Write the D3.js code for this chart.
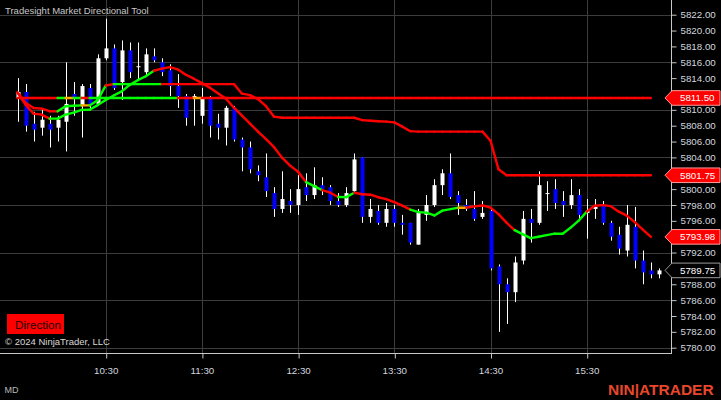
<!DOCTYPE html>
<html><head><meta charset="utf-8">
<script src="https://cdn.jsdelivr.net/npm/d3@7"></script>
<style>html,body{margin:0;padding:0;background:#000;overflow:hidden}svg{display:block}</style>
</head><body><svg id="c" width="721" height="400"></svg>
<script>
const barTimes = ["09:35","09:40","09:45","09:50","09:55","10:00","10:05","10:10","10:15","10:20",
"10:25","10:30","10:35","10:40","10:45","10:50","10:55","11:00","11:05","11:10",
"11:15","11:20","11:25","11:30","11:35","11:40","11:45","11:50","11:55","12:00",
"12:05","12:10","12:15","12:20","12:25","12:30","12:35","12:40","12:45","12:50",
"12:55","13:00","13:05","13:10","13:15","13:20","13:25","13:30","13:35","13:40",
"13:45","13:50","13:55","14:00","14:05","14:10","14:15","14:20","14:25","14:30",
"14:35","14:40","14:45","14:50","14:55","15:00","15:05","15:10","15:15","15:20",
"15:25","15:30","15:35","15:40","15:45","15:50","15:55","16:00","16:05","16:10","16:15"];

const openP = [5811.5,5812.25,5808.25,5807.75,5808.25,5807.75,5808.5,5812,5810.5,5812.75,
5810.75,5816.5,5817.75,5813.5,5817.5,5815.5,5814.75,5816.75,5816,5815,
5813,5811.75,5811.5,5809.25,5811.5,5808.25,5807.75,5810.25,5806.25,5805.25,
5802.25,5801.5,5799.5,5797.5,5798.5,5798,5800.25,5799.25,5800.5,5800.25,
5798.5,5798,5799.75,5804,5796.5,5797.25,5795.75,5797.5,5795.75,5795.75,
5793,5796.75,5798,5800.5,5802,5799.25,5798,5797.5,5796.5,5797.25,
5790.25,5788,5787,5791,5796.25,5795.75,5799.5,5800,5798.5,5798,
5799.25,5797,5797.5,5798,5795.75,5794.25,5792.25,5795.25,5791,5789.75,
5789.25];
const highP = [5814,5813.25,5809.75,5810,5809.25,5809.25,5816,5813.5,5813.25,5813.25,
5817,5821.5,5818.25,5818.75,5818.5,5818.5,5817.75,5817.75,5816.5,5815.75,
5814.5,5812,5812,5812.75,5811.75,5809.5,5810.5,5810.5,5806.5,5806,
5803,5804.5,5800.25,5802.25,5800,5801.75,5802,5802.75,5801.5,5800.5,
5799.5,5800.25,5804.5,5804,5798.75,5798,5798.25,5798,5796.75,5795.75,
5797.5,5799.25,5801.25,5802.5,5804.5,5799.75,5798.75,5799.75,5798.5,5797.5,
5790.5,5788.75,5791.5,5797.25,5797.5,5802.25,5801,5801.25,5799.75,5801.25,
5800,5798.75,5798.75,5798.5,5796,5795.25,5798,5797.75,5792.25,5790.75,
5790];
const lowP = [5808.5,5807.25,5806,5806.75,5805.25,5806,5804.75,5809.25,5806.5,5810,
5810.5,5816.25,5812.5,5811.25,5814,5813.75,5814.25,5816,5814.25,5811.75,
5810.25,5808,5808,5808.25,5806.5,5806.25,5805.5,5806,5802.25,5802,
5801,5799,5796.5,5797,5797,5796.75,5798.5,5798.75,5799.25,5798,
5797.75,5797.75,5799.5,5795.75,5795.75,5795.5,5795.25,5795.25,5794.25,5793,
5793,5796,5797.75,5799.25,5798.75,5796.75,5797.25,5796,5796.25,5789.75,
5782,5783,5785.75,5790.5,5793.25,5795.5,5797.25,5797.5,5796.5,5797.5,
5796,5793.75,5796.25,5795.5,5793.5,5791.75,5791.5,5790,5788,5788.75,
5788.75];
const closeP = [5812.25,5808,5807.5,5808.75,5807.5,5808.75,5810.75,5811.5,5813,5810.75,
5816.5,5817.75,5812.75,5817.5,5814.75,5815.5,5817,5816.25,5814.75,5813,
5811.75,5809,5811.75,5811.5,5808,5807.75,5810.25,5806.25,5805.25,5802.5,
5801.75,5799.75,5797.5,5798.75,5798,5800,5799.25,5800.5,5800,5798.5,
5798,5799.5,5803.75,5796.5,5797.5,5795.75,5797.5,5795.75,5795.5,5793.25,
5797,5798,5800.5,5802,5799,5798.25,5797.5,5796.25,5797,5790,
5788,5787,5790.75,5796.25,5795.75,5800.5,5799.5,5798.25,5798,5799.25,
5796.75,5797.25,5797.75,5795.75,5794,5792.5,5795.5,5791,5789.5,5789.25,
5789.75];

const fastLine = [5812.16,5810.65,5809.52,5809.39,5808.89,5808.89,5809.39,5809.65,5810,5810.02,
5810.6,5811.24,5811.81,5812.33,5813.15,5813.74,5814.24,5814.93,5815.2,5815.39,
5815.1,5814.43,5813.93,5813.37,5812.8,5812.1,5811.4,5810.27,5809.26,5808.25,
5807.25,5806.3,5805.29,5803.97,5802.96,5802.2,5800.88,5800.37,5799.87,5799.55,
5799.01,5798.99,5799.55,5799.36,5799.3,5798.98,5798.73,5798.36,5797.91,5797.41,
5797.1,5797.03,5796.68,5797.29,5797.48,5797.66,5797.66,5797.83,5797.94,5797.66,
5796.84,5795.77,5794.82,5794.32,5793.82,5794,5794.2,5794.38,5794.38,5795.14,
5796.02,5797.16,5797.91,5797.98,5797.85,5797.16,5796.65,5795.83,5794.89,5793.98];
const slowLine = [5812.23,5810.9,5810.24,5810.15,5809.83,5809.81,5810.46,5810.52,5810.56,5810.56,
5811.22,5813.07,5813.25,5813.25,5813.25,5813.25,5813.25,5813.25,5813.25,5813.25,
5813.25,5813.25,5813.25,5813.25,5813.25,5813.25,5813.25,5813.25,5812.04,5811.85,
5811.34,5810.46,5809.14,5809,5809,5809,5809,5809,5809,5809,
5809,5809,5809,5808.7,5808.63,5808.57,5808.51,5808.42,5807.88,5807.31,
5807.25,5807.25,5807.25,5807.25,5807.25,5807.25,5807.25,5807.25,5807.25,5806.11,
5802.5,5801.75,5801.75,5801.75,5801.75,5801.75,5801.75,5801.75,5801.75,5801.75,
5801.75,5801.75,5801.75,5801.75,5801.75,5801.75,5801.75,5801.75,5801.75,5801.75];
const openLine = [5811.5,5811.5,5811.5,5811.5,5811.5,5811.5,5811.5,5811.5,5811.5,5811.5,
5811.5,5811.5,5811.5,5811.5,5811.5,5811.5,5811.5,5811.5,5811.5,5811.5,
5811.5,5811.5,5811.5,5811.5,5811.5,5811.5,5811.5,5811.5,5811.5,5811.5,
5811.5,5811.5,5811.5,5811.5,5811.5,5811.5,5811.5,5811.5,5811.5,5811.5,
5811.5,5811.5,5811.5,5811.5,5811.5,5811.5,5811.5,5811.5,5811.5,5811.5,
5811.5,5811.5,5811.5,5811.5,5811.5,5811.5,5811.5,5811.5,5811.5,5811.5,
5811.5,5811.5,5811.5,5811.5,5811.5,5811.5,5811.5,5811.5,5811.5,5811.5,
5811.5,5811.5,5811.5,5811.5,5811.5,5811.5,5811.5,5811.5,5811.5,5811.5];

// direction state per bar (1 up, -1 down, 0 neutral)
const fastDir = [-1,-1,-1,-1,-1, 1,1,1,1,1,1,1,1,1,1,1,1,1,
 -1,-1,-1,-1,-1,-1,-1,-1,-1,-1,-1,-1,-1,-1,-1,-1,-1,-1,-1,
 1,1,-1,-1,1,1,-1,-1,-1,-1,-1,-1,-1, 1,1,1,1,1,1, 0,
 -1,-1,-1,-1,-1,-1, 1,1,1,1,1,1,1,1,1, -1,-1,-1,-1,-1,-1,-1,-1];
const slowDir = [-1,-1,-1,-1,-1,-1, 1,1,1, 0, 1,1, -1, 1,1,1,1,1,1,
 -1,-1,-1,-1,-1,-1,-1,-1,-1,-1,-1,-1,-1,-1,-1,-1,-1,-1,-1,-1,-1,-1,
 -1,-1,-1,-1,-1,-1,-1,-1,-1,-1,-1,-1,-1,-1,-1,-1,-1,-1,-1,-1,
 -1,-1,-1,-1,-1,-1,-1,-1,-1,-1,-1,-1,-1,-1,-1,-1,-1,-1,-1,-1,-1];
const openDir = [-1,-1,-1,-1,-1,-1, 1, 0, 1, -1, 1,1,1,1,1,1,1,1,1,1,1, -1,-1, 0,
 -1,-1,-1,-1,-1,-1,-1,-1,-1,-1,-1,-1,-1,-1,-1,-1,-1,-1,-1,-1,-1,-1,-1,-1,-1,-1,
 -1,-1,-1,-1,-1,-1,-1,-1,-1,-1,-1,-1,-1,-1,-1,-1,-1,-1,-1,-1,-1,-1,-1,-1,-1,-1,-1,-1,-1,-1];

const priceTicks = [5780,5782,5784,5786,5788,5790,5792,5794,5796,5798,5800,5802,5804,5806,5808,5810,5812,5814,5816,5818,5820,5822];
const gridPrices = [5780,5786,5792,5798,5804,5810,5816,5822];
const timeTicks = ["10:30","11:30","12:30","13:30","14:30","15:30"];
const markerValues = [5811.50, 5801.75, 5793.98];
const lastPrice = 5789.75;

const svg = d3.select("#c");
const W = 721, H = 400, plotR = 671, plotB = 353.5;
const font = "'Liberation Sans', Arial, sans-serif";
const parse = d3.timeParse("%H:%M");
const times = barTimes.map(parse);

const x = d3.scaleTime().domain([parse("10:30"), parse("15:30")]).range([105.7, 586.7]);
const y = d3.scaleLinear().domain([5780, 5822]).range([347.7, 14.7]);

svg.append("rect").attr("width", W).attr("height", H).attr("fill", "#000");

// grid
const g = svg.append("g");
g.selectAll(".hg").data(gridPrices).enter().append("line")
  .attr("x1", 0).attr("x2", plotR)
  .attr("y1", d => Math.round(y(d)) + 0.5).attr("y2", d => Math.round(y(d)) + 0.5)
  .attr("stroke", "#3c3c3c").attr("stroke-width", 1);
g.selectAll(".vg").data(timeTicks.map(parse)).enter().append("line")
  .attr("y1", 0).attr("y2", plotB)
  .attr("x1", d => Math.round(x(d)) + 0.5).attr("x2", d => Math.round(x(d)) + 0.5)
  .attr("stroke", "#3c3c3c").attr("stroke-width", 1);

// candles
const cg = svg.append("g");
times.forEach((t, i) => {
  const cx = Math.round(x(t));
  const o = openP[i], c = closeP[i];
  cg.append("line").attr("x1", cx + 0.5).attr("x2", cx + 0.5)
    .attr("y1", y(highP[i])).attr("y2", y(lowP[i]))
    .attr("stroke", "#ffffff").attr("stroke-width", 1);
  const top = y(Math.max(o, c)), bot = y(Math.min(o, c));
  cg.append("rect").attr("x", cx - 1.5).attr("width", 4)
    .attr("y", top).attr("height", Math.max(1, bot - top))
    .attr("fill", c < o ? "#0000ff" : "#ffffff");
});

// indicator lines, coloured by direction state
const dirColor = d => d > 0 ? "#00ff00" : (d < 0 ? "#ff0000" : "#ffa500");
function drawLine(vals, dirs) {
  const lg = svg.append("g");
  for (let i = 1; i < vals.length; i++) {
    lg.append("line")
      .attr("x1", x(times[i - 1])).attr("y1", y(vals[i - 1]))
      .attr("x2", x(times[i])).attr("y2", y(vals[i]))
      .attr("stroke", dirColor(dirs[i])).attr("stroke-width", 2.4)
      .attr("stroke-linecap", "round");
  }
}
drawLine(openLine, openDir);
drawLine(slowLine, slowDir);
drawLine(fastLine, fastDir);

// axes (labels hidden behind the price markers are not drawn)
const allMarks = markerValues.concat([lastPrice]);
const shownTicks = priceTicks.filter(t => allMarks.every(m => Math.abs(y(t) - y(m)) > 9));
const ra = svg.append("g").attr("transform", `translate(${plotR + 0.5},0)`)
  .call(d3.axisRight(y).tickValues(shownTicks).tickSize(5).tickPadding(4).tickFormat(d3.format(".2f")));
ra.select(".domain").remove();
ra.selectAll("line").attr("stroke", "#c8c8c8");
ra.selectAll("text").attr("fill", "#d2d6de").attr("font-family", font).attr("font-size", "9.75px");

const ba = svg.append("g").attr("transform", `translate(0,${plotB})`)
  .call(d3.axisBottom(x).tickValues(timeTicks.map(parse)).tickSize(5).tickPadding(9).tickFormat(d3.timeFormat("%H:%M")));
ba.select(".domain").remove();
ba.selectAll("line").attr("stroke", "#c8c8c8").attr("transform", "translate(0.5,0)");
ba.selectAll("text").attr("fill", "#d2d6de").attr("font-family", font).attr("font-size", "9.75px");

svg.append("line").attr("x1", plotR + 0.5).attr("x2", plotR + 0.5).attr("y1", 0).attr("y2", plotB)
  .attr("stroke", "#c8c8c8");
svg.append("line").attr("x1", 0).attr("x2", plotR + 1).attr("y1", plotB).attr("y2", plotB)
  .attr("stroke", "#c8c8c8");

// price markers
function marker(v, fill, stroke) {
  const yy = y(v);
  const mg = svg.append("g");
  mg.append("path")
    .attr("d", `M${plotR - 6},${yy} L${plotR + 1},${yy - 7.3} L720,${yy - 7.3} L720,${yy + 7.3} L${plotR + 1},${yy + 7.3} Z`)
    .attr("fill", fill).attr("stroke", stroke).attr("stroke-width", 1);
  mg.append("text").attr("x", 680).attr("y", yy).attr("dy", "0.35em")
    .attr("fill", "#ffffff").attr("font-family", font).attr("font-size", "9.75px")
    .text(d3.format(".2f")(v));
}
markerValues.forEach(v => marker(v, "#ff0000", "#ff9a9a"));
marker(lastPrice, "#000000", "#9a9a9a");

// texts
svg.append("text").attr("x", 5).attr("y", 13.5).attr("fill", "#c8c8c8")
  .attr("font-family", font).attr("font-size", "9.5px").text("Tradesight Market Directional Tool");
svg.append("rect").attr("x", 7).attr("y", 314).attr("width", 57).attr("height", 20).attr("fill", "#ff0000");
svg.append("text").attr("x", 15).attr("y", 328.5).attr("fill", "#1a0000")
  .attr("font-family", font).attr("font-size", "11.7px").text("Direction");
svg.append("text").attr("x", 5).attr("y", 345.3).attr("fill", "#d8d8d8")
  .attr("font-family", font).attr("font-size", "9.5px").text("© 2024 NinjaTrader, LLC");
svg.append("text").attr("x", 4.5).attr("y", 393.3).attr("fill", "#b8b8b8")
  .attr("font-family", font).attr("font-size", "9px").text("MD");
svg.append("text").attr("x", 608).attr("y", 395).attr("fill", "#e8472b")
  .attr("font-family", font).attr("font-weight", "bold").attr("font-size", "15.5px").text("NIN|ATRADER");
</script></body></html>
